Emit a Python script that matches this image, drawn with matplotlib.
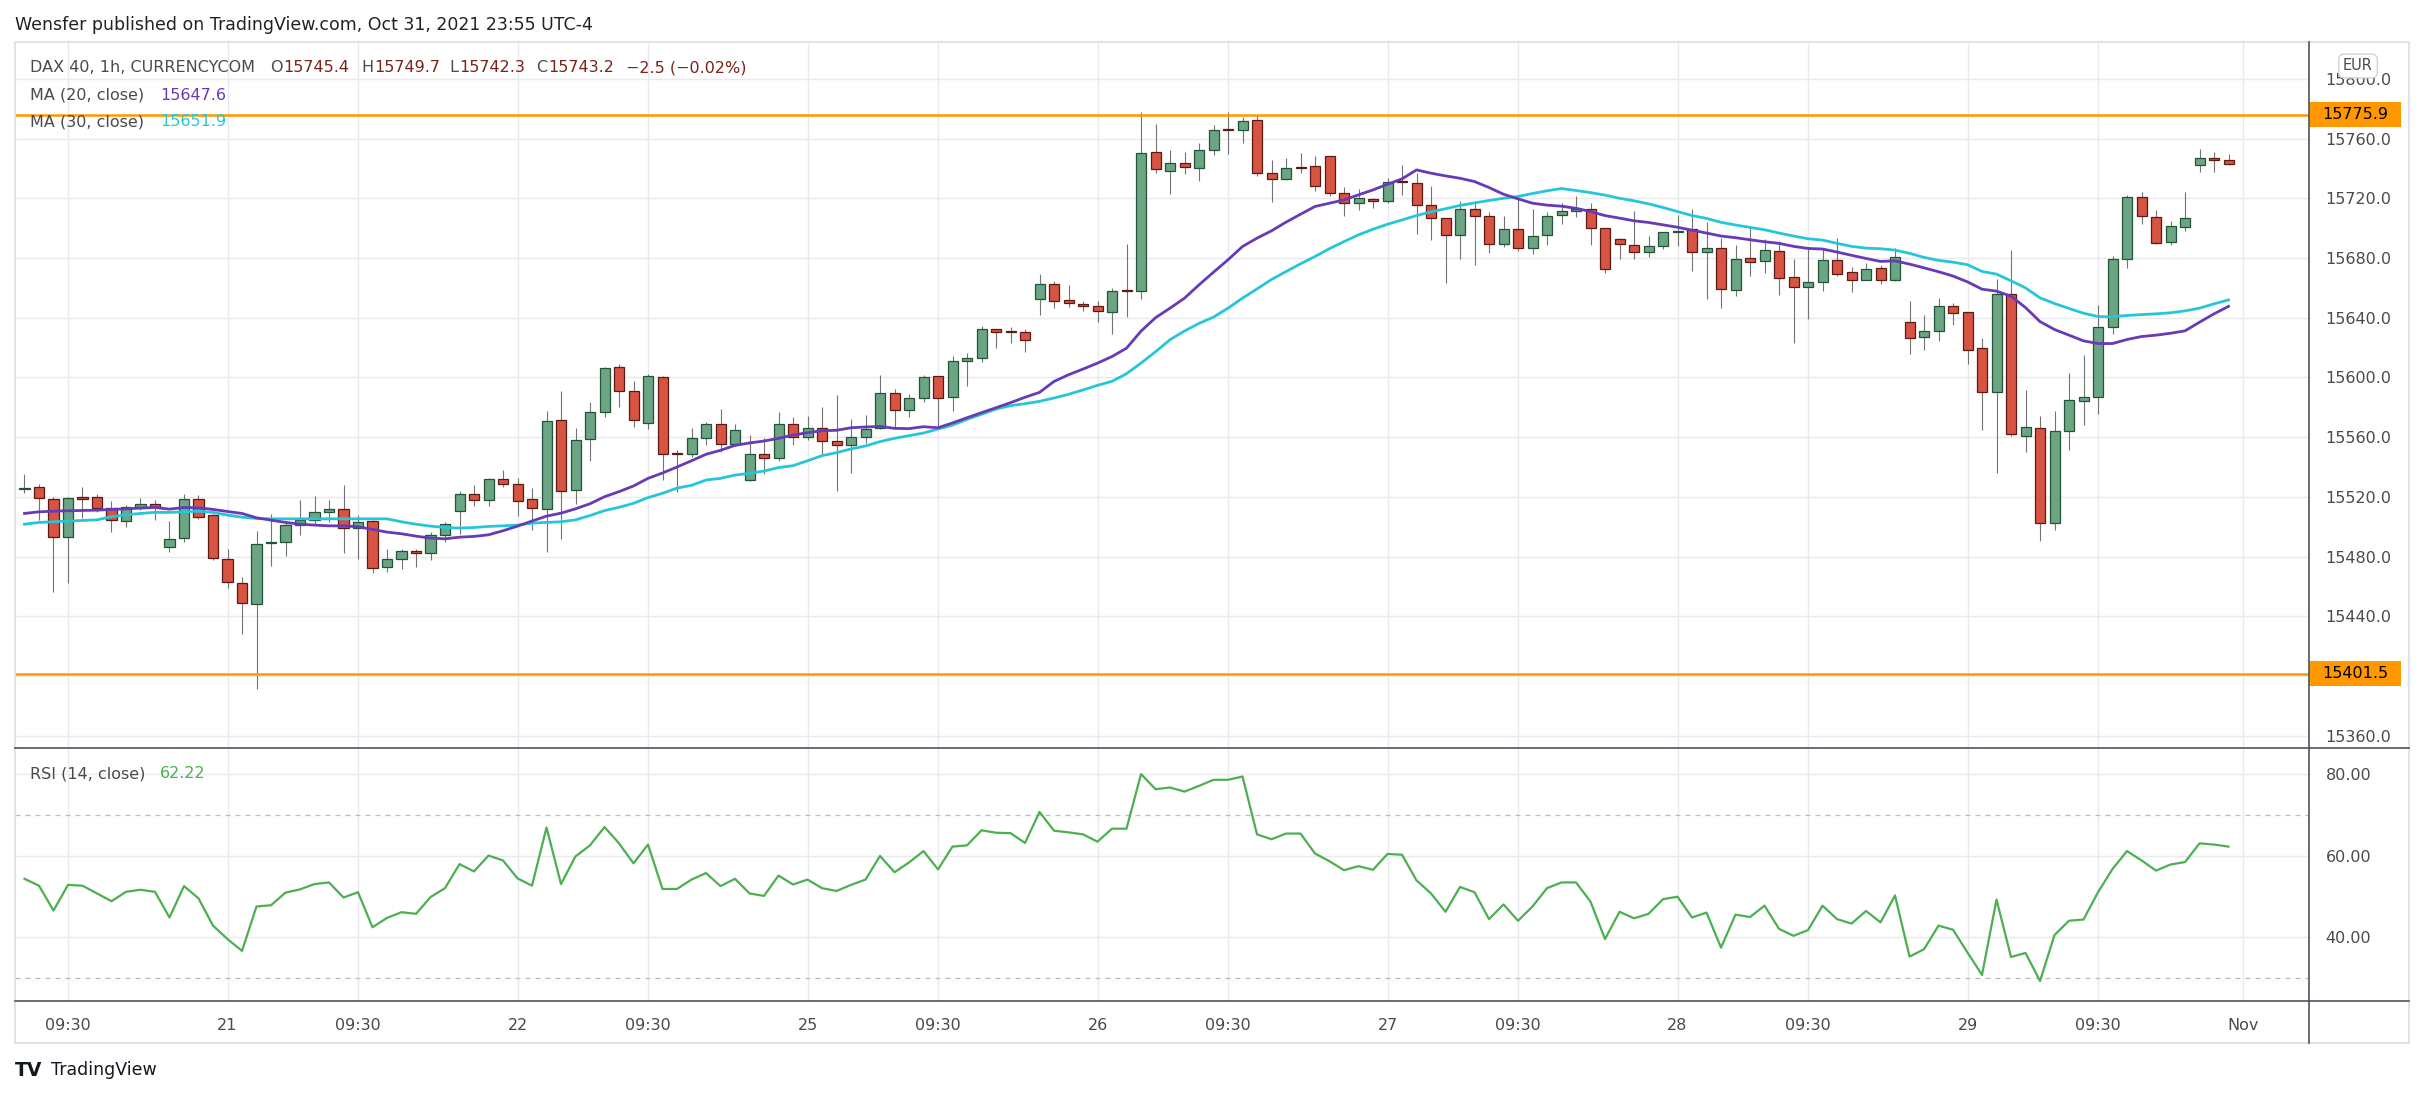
"""DAX 40 1h chart (TradingView style) with MA20 / MA30 and RSI(14) panel."""

import matplotlib
matplotlib.use("Agg")
import matplotlib.pyplot as plt
from matplotlib.patches import Rectangle
from matplotlib.lines import Line2D
from matplotlib.transforms import blended_transform_factory
import numpy as np

plt.rcParams["font.family"] = ["DejaVu Sans"]

# ------------------------------------------------------------------
# Data (one entry per hourly bar)
# ------------------------------------------------------------------
opens = [
    15525.2, 15526.5, 15518.5, 15493.0, 15519.6, 15519.8, 15512.5, 15503.8, 15513.1, 15515.1,
    15486.3, 15492.4, 15518.5, 15507.8, 15478.3, 15462.2, 15448.2, 15489.0, 15489.7, 15501.1,
    15504.4, 15509.8, 15511.8, 15499.1, 15503.8, 15472.9, 15478.3, 15483.7, 15482.3, 15494.4,
    15510.4, 15521.8, 15517.8, 15531.9, 15528.5, 15518.5, 15511.8, 15571.3, 15524.5, 15558.7,
    15577.1, 15607.2, 15591.1, 15569.7, 15600.5, 15549.6, 15548.9, 15559.6, 15569.0, 15555.6,
    15531.3, 15548.9, 15546.0, 15569.0, 15560.3, 15566.3, 15557.6, 15555.0, 15560.3, 15566.3,
    15589.8, 15578.4, 15586.4, 15601.2, 15587.1, 15611.2, 15613.2, 15632.6, 15630.8, 15630.6,
    15652.4, 15662.7, 15651.6, 15649.3, 15648.0, 15643.8, 15658.4, 15658.2, 15751.3, 15738.6,
    15743.3, 15740.6, 15752.0, 15766.1, 15765.4, 15772.7, 15737.2, 15733.2, 15740.8, 15741.3,
    15748.0, 15723.8, 15717.1, 15719.8, 15718.5, 15731.2, 15730.5, 15715.8, 15707.1, 15695.5,
    15713.1, 15707.8, 15689.7, 15699.7, 15687.0, 15695.7, 15709.1, 15711.8, 15712.5, 15700.4,
    15692.4, 15689.0, 15683.7, 15687.7, 15697.1, 15699.1, 15684.0, 15686.9, 15658.5, 15680.2,
    15677.9, 15684.8, 15667.4, 15660.7, 15664.1, 15678.8, 15670.3, 15665.4, 15673.4, 15665.4,
    15637.2, 15627.1, 15631.2, 15648.0, 15643.9, 15619.8, 15590.2, 15656.2, 15560.8, 15566.1,
    15502.2, 15564.1, 15584.2, 15586.9, 15633.9, 15679.5, 15721.1, 15707.7, 15690.9, 15701.0,
    15742.6, 15747.3, 15745.4,
]
highs = [
    15535.4, 15528.5, 15519.8, 15519.8, 15526.7, 15522.0, 15517.4, 15514.7, 15519.4, 15518.0,
    15504.0, 15522.0, 15521.2, 15508.7, 15485.2, 15466.5, 15497.3, 15508.4, 15503.1, 15518.0,
    15520.7, 15518.0, 15528.1, 15507.8, 15504.7, 15485.2, 15485.2, 15484.8, 15496.7, 15503.1,
    15524.0, 15528.1, 15532.8, 15538.1, 15532.5, 15525.8, 15577.6, 15590.9, 15566.0, 15583.6,
    15607.3, 15609.2, 15597.4, 15602.5, 15601.2, 15551.4, 15566.3, 15570.4, 15579.0, 15569.0,
    15561.2, 15559.6, 15577.0, 15573.3, 15573.9, 15580.0, 15588.0, 15572.4, 15574.6, 15601.8,
    15592.0, 15588.7, 15601.8, 15601.2, 15614.1, 15616.1, 15634.6, 15632.6, 15633.5, 15632.6,
    15669.6, 15664.9, 15662.2, 15650.9, 15650.9, 15659.6, 15689.6, 15777.6, 15769.6, 15752.2,
    15751.3, 15756.9, 15768.9, 15777.6, 15774.3, 15775.6, 15745.5, 15746.8, 15750.0, 15748.2,
    15748.6, 15727.4, 15726.5, 15720.5, 15733.9, 15742.6, 15737.2, 15728.5, 15707.1, 15718.5,
    15718.5, 15711.1, 15707.8, 15721.2, 15712.5, 15711.1, 15716.5, 15721.2, 15717.1, 15700.4,
    15693.7, 15711.8, 15694.4, 15697.7, 15709.1, 15712.7, 15704.3, 15693.1, 15688.4, 15700.5,
    15692.9, 15691.6, 15679.0, 15687.5, 15686.0, 15693.1, 15674.3, 15676.4, 15675.2, 15686.4,
    15651.5, 15641.5, 15652.9, 15649.7, 15643.9, 15626.7, 15665.6, 15685.1, 15591.8, 15573.9,
    15577.7, 15603.2, 15614.8, 15648.2, 15681.1, 15722.4, 15724.4, 15711.9, 15704.5, 15724.0,
    15752.8, 15750.8, 15749.7,
]
lows = [
    15522.7, 15504.2, 15456.0, 15462.0, 15506.0, 15509.6, 15496.2, 15499.7, 15510.9, 15504.2,
    15483.0, 15489.5, 15504.9, 15477.4, 15458.7, 15427.9, 15391.0, 15473.4, 15480.1, 15494.2,
    15501.7, 15503.5, 15482.1, 15478.7, 15468.7, 15470.0, 15472.0, 15472.7, 15477.4, 15489.5,
    15494.8, 15514.2, 15514.2, 15526.3, 15506.9, 15497.7, 15482.8, 15491.7, 15515.4, 15544.0,
    15573.6, 15580.0, 15566.8, 15565.4, 15531.3, 15523.3, 15546.7, 15554.7, 15550.3, 15554.0,
    15530.6, 15535.3, 15544.0, 15554.7, 15558.0, 15548.0, 15524.0, 15536.2, 15556.3, 15565.6,
    15565.6, 15573.5, 15583.5, 15566.3, 15577.5, 15594.2, 15610.3, 15619.7, 15623.0, 15617.0,
    15641.6, 15646.2, 15646.9, 15644.2, 15636.9, 15629.1, 15640.2, 15652.6, 15737.0, 15722.9,
    15736.3, 15731.9, 15749.3, 15749.7, 15757.1, 15735.0, 15717.6, 15732.5, 15736.8, 15725.2,
    15721.8, 15708.2, 15712.2, 15713.6, 15716.5, 15722.3, 15696.2, 15692.2, 15663.3, 15679.2,
    15675.4, 15683.5, 15687.5, 15684.8, 15682.8, 15689.0, 15702.9, 15707.6, 15688.8, 15670.0,
    15679.4, 15679.4, 15680.8, 15686.2, 15688.3, 15671.6, 15652.4, 15646.8, 15654.4, 15667.9,
    15669.9, 15655.1, 15623.3, 15639.4, 15657.8, 15667.9, 15657.1, 15665.0, 15662.5, 15664.5,
    15616.0, 15618.2, 15624.2, 15634.8, 15609.3, 15565.0, 15536.3, 15560.5, 15549.8, 15490.5,
    15498.1, 15551.1, 15567.9, 15575.3, 15628.9, 15673.2, 15702.7, 15689.3, 15688.4, 15698.0,
    15737.6, 15737.6, 15742.3,
]
closes = [
    15526.0, 15519.2, 15493.0, 15519.2, 15518.9, 15512.5, 15504.4, 15513.1, 15515.1, 15513.1,
    15491.7, 15518.5, 15506.4, 15479.0, 15462.9, 15448.8, 15488.3, 15489.6, 15501.1, 15504.4,
    15509.8, 15511.8, 15499.1, 15503.1, 15472.3, 15478.3, 15483.7, 15482.1, 15494.4, 15501.7,
    15521.8, 15517.8, 15531.9, 15528.5, 15517.1, 15512.5, 15570.9, 15523.8, 15558.0, 15576.7,
    15606.5, 15591.1, 15571.7, 15601.2, 15548.9, 15548.9, 15559.6, 15569.0, 15555.6, 15565.0,
    15548.9, 15546.0, 15569.0, 15560.3, 15566.3, 15557.6, 15555.0, 15560.3, 15565.7, 15589.8,
    15578.4, 15586.4, 15600.5, 15586.4, 15611.2, 15613.2, 15632.6, 15630.6, 15630.4, 15625.3,
    15662.7, 15651.1, 15649.8, 15647.8, 15644.4, 15658.0, 15658.0, 15750.0, 15739.9, 15743.9,
    15741.2, 15752.0, 15766.0, 15765.9, 15772.0, 15737.2, 15733.2, 15740.6, 15740.4, 15727.9,
    15723.2, 15717.1, 15720.5, 15718.5, 15731.2, 15730.6, 15715.8, 15707.1, 15695.5, 15712.5,
    15708.4, 15689.7, 15699.1, 15687.0, 15695.0, 15708.4, 15711.8, 15712.1, 15700.4, 15672.3,
    15689.7, 15684.3, 15687.7, 15697.1, 15698.4, 15684.3, 15686.9, 15659.1, 15679.5, 15677.2,
    15685.5, 15666.7, 15660.7, 15664.1, 15678.8, 15669.4, 15665.4, 15672.8, 15665.4, 15680.8,
    15626.5, 15631.2, 15648.0, 15643.3, 15618.4, 15590.2, 15656.2, 15562.1, 15566.8, 15502.8,
    15564.1, 15584.9, 15586.9, 15633.9, 15679.5, 15721.1, 15707.9, 15690.2, 15701.6, 15707.0,
    15747.3, 15745.9, 15743.2,
]
ma20 = [
    15508.9, 15510.0, 15510.4, 15510.7, 15510.9, 15511.1, 15511.6, 15512.0, 15512.5, 15512.9,
    15511.8, 15512.9, 15512.7, 15511.6, 15510.2, 15508.9, 15506.0, 15504.4, 15502.9, 15501.7,
    15501.1, 15500.6, 15500.6, 15500.0, 15498.2, 15496.4, 15495.3, 15493.7, 15492.4, 15491.9,
    15493.0, 15493.5, 15494.6, 15497.3, 15500.4, 15503.8, 15507.1, 15509.1, 15512.0, 15515.4,
    15520.1, 15523.5, 15527.3, 15532.4, 15536.0, 15540.0, 15544.2, 15548.5, 15551.2, 15554.5,
    15556.1, 15557.4, 15559.2, 15561.4, 15563.0, 15564.3, 15564.6, 15566.3, 15566.8, 15567.2,
    15565.9, 15565.7, 15567.0, 15566.3, 15569.5, 15573.0, 15576.4, 15579.7, 15583.1, 15586.7,
    15590.0, 15597.3, 15601.8, 15605.6, 15609.6, 15614.0, 15619.6, 15631.0, 15640.0, 15646.4,
    15653.1, 15662.0, 15670.5, 15678.8, 15687.7, 15693.3, 15698.2, 15704.0, 15709.3, 15714.5,
    15716.7, 15718.9, 15722.3, 15725.6, 15729.4, 15733.0, 15739.0, 15736.8, 15735.0, 15733.4,
    15731.2, 15727.2, 15722.7, 15719.6, 15716.7, 15715.4, 15714.7, 15713.3, 15711.1, 15708.4,
    15706.7, 15704.9, 15703.8, 15702.2, 15700.6, 15698.6, 15696.7, 15694.7, 15693.6, 15692.2,
    15690.9, 15689.8, 15687.8, 15686.4, 15686.0, 15684.0, 15681.8, 15679.7, 15677.7, 15678.1,
    15675.9, 15673.4, 15670.8, 15667.9, 15664.0, 15659.1, 15657.8, 15654.4, 15646.8, 15637.4,
    15632.1, 15628.3, 15624.5, 15622.7, 15622.7, 15625.4, 15627.4, 15628.3, 15629.6, 15631.2,
    15637.0, 15642.6, 15647.6,
]
ma30 = [
    15501.7, 15502.9, 15503.3, 15503.8, 15504.2, 15504.6, 15506.7, 15508.0, 15508.9, 15509.6,
    15509.6, 15510.0, 15510.4, 15509.6, 15507.8, 15506.4, 15505.5, 15505.3, 15505.3, 15505.3,
    15505.3, 15505.3, 15505.3, 15505.3, 15505.3, 15505.3, 15503.3, 15501.7, 15500.4, 15499.5,
    15499.1, 15499.5, 15500.2, 15500.6, 15501.1, 15502.4, 15502.9, 15503.3, 15504.6, 15507.5,
    15510.8, 15513.0, 15515.7, 15519.5, 15522.4, 15525.9, 15527.7, 15531.3, 15532.4, 15534.6,
    15535.8, 15537.3, 15539.6, 15540.9, 15544.2, 15547.6, 15549.6, 15552.1, 15554.1, 15557.0,
    15559.2, 15561.0, 15562.8, 15565.4, 15568.1, 15571.9, 15575.3, 15578.8, 15581.1, 15582.4,
    15584.0, 15586.2, 15588.7, 15591.6, 15594.7, 15597.4, 15602.5, 15609.6, 15617.2, 15625.3,
    15631.1, 15636.2, 15640.4, 15646.4, 15653.1, 15659.3, 15665.6, 15670.9, 15676.1, 15681.0,
    15686.3, 15691.0, 15695.5, 15699.3, 15702.6, 15705.5, 15708.4, 15710.9, 15713.0, 15715.2,
    15716.9, 15718.5, 15720.0, 15721.2, 15723.2, 15725.0, 15726.5, 15725.2, 15723.8, 15722.1,
    15720.0, 15718.3, 15716.3, 15713.8, 15711.1, 15708.4, 15706.5, 15703.9, 15702.1, 15700.5,
    15698.9, 15696.7, 15694.7, 15692.9, 15692.0, 15689.8, 15687.8, 15686.6, 15686.2, 15685.3,
    15683.1, 15680.4, 15678.4, 15677.2, 15675.5, 15671.0, 15669.2, 15664.7, 15660.0, 15653.3,
    15649.5, 15646.2, 15643.0, 15640.8, 15640.6, 15641.5, 15642.1, 15642.6, 15643.3, 15644.6,
    15646.4, 15649.3, 15651.9,
]
rsi = [
    54.3, 52.6, 46.5, 52.8, 52.6, 50.7, 48.8, 51.1, 51.6, 51.1,
    44.8, 52.5, 49.5, 42.8, 39.5, 36.6, 47.5, 47.8, 50.9, 51.7,
    53.0, 53.4, 49.7, 51.0, 42.4, 44.7, 46.1, 45.7, 49.8, 52.0,
    57.9, 56.1, 60.0, 58.8, 54.4, 52.6, 66.9, 53.0, 59.8, 62.5,
    67.0, 63.0, 58.1, 62.7, 51.8, 51.8, 54.1, 55.7, 52.5, 54.3,
    50.7, 50.1, 55.1, 52.9, 54.1, 52.0, 51.3, 52.8, 54.1, 59.9,
    55.9, 58.3, 61.1, 56.6, 62.2, 62.5, 66.2, 65.6, 65.5, 63.1,
    70.7, 66.1, 65.7, 65.2, 63.4, 66.6, 66.6, 80.0, 76.3, 76.7,
    75.7, 77.1, 78.6, 78.6, 79.4, 65.2, 64.0, 65.4, 65.4, 60.5,
    58.6, 56.4, 57.4, 56.5, 60.4, 60.2, 53.9, 50.7, 46.2, 52.3,
    51.0, 44.4, 48.0, 44.0, 47.5, 52.0, 53.4, 53.4, 48.7, 39.5,
    46.2, 44.6, 45.7, 49.3, 49.9, 44.8, 46.0, 37.4, 45.5, 44.9,
    47.7, 42.0, 40.3, 41.7, 47.7, 44.4, 43.3, 46.4, 43.6, 50.2,
    35.2, 37.0, 42.8, 41.8, 36.2, 30.7, 49.2, 35.1, 36.1, 29.2,
    40.5, 44.0, 44.3, 51.0, 56.7, 61.1, 58.8, 56.3, 57.8, 58.4,
    63.0, 62.7, 62.2,
]

# time axis: bar index of each label
time_tick_bars = [3, 14, 23, 34, 43, 54, 63, 74, 83, 94, 103, 114, 123, 134, 143, 153]
time_tick_labels = ["09:30", "21", "09:30", "22", "09:30", "25", "09:30", "26",
                    "09:30", "27", "09:30", "28", "09:30", "29", "09:30", "Nov"]
price_ticks = [15360, 15400, 15440, 15480, 15520, 15560, 15600, 15640, 15680, 15720, 15760, 15800]
rsi_ticks = [40, 60, 80]
rsi_bands = [30, 70]
levels = [15775.9, 15401.5]

# ------------------------------------------------------------------
# Style
# ------------------------------------------------------------------
UP, DOWN = "#6ba583", "#d75442"
UP_EDGE, DOWN_EDGE = "#225437", "#5b1a13"
WICK = "#737375"
MA20_C, MA30_C = "#673ab7", "#26c6da"
RSI_C = "#4caf50"
ORANGE = "#ff9800"
GRID = "#e9eaee"
AXIS = "#50535e"
TXT = "#4a4a4a"
VAL_RED = "#7a2318"
FS = 11.5

W, H = 2425, 1099
fig = plt.figure(figsize=(W / 100, H / 100), dpi=100)
fig.patch.set_facecolor("white")


def fx(px):
    return px / W


def fy(py):
    return 1 - py / H


X0, X1 = 15, 2309
ax = fig.add_axes([fx(X0), fy(748), fx(X1) - fx(X0), fy(43) - fy(748)])
ax2 = fig.add_axes([fx(X0), fy(1001), fx(X1) - fx(X0), fy(748) - fy(1001)], sharex=ax)

o = np.array(opens)
h = np.array(highs)
l = np.array(lows)
c = np.array(closes)
idx = np.arange(len(c))
up = c >= o

# ------------------------------------------------------------------
# Main panel: candles + MAs + levels
# ------------------------------------------------------------------
ax.vlines(idx, l, h, color=WICK, lw=0.8, zorder=2)
body_lo = np.minimum(o, c)
body_h = np.maximum(np.abs(c - o), 0.8)
ax.bar(idx[up], body_h[up], bottom=body_lo[up], width=0.69,
       color=UP, edgecolor=UP_EDGE, linewidth=0.9, zorder=3)
ax.bar(idx[~up], body_h[~up], bottom=body_lo[~up], width=0.69,
       color=DOWN, edgecolor=DOWN_EDGE, linewidth=0.9, zorder=3)

ax.plot(idx, ma30, color=MA30_C, lw=2.0, zorder=4)
ax.plot(idx, ma20, color=MA20_C, lw=2.0, zorder=4)
for lv in levels:
    ax.axhline(lv, color=ORANGE, lw=1.8, zorder=5)

ax.set_xlim(-0.655, 157.55)
ax.set_ylim(15351.8, 15824.0)

# ------------------------------------------------------------------
# RSI panel
# ------------------------------------------------------------------
ax2.plot(idx, rsi, color=RSI_C, lw=1.6, zorder=4)
for b in rsi_bands:
    ax2.axhline(b, color="#b8bac2", lw=0.9, ls=(0, (4, 4)), zorder=1)
ax2.set_ylim(24.3, 86.4)

# grids / ticks
for a, yt in ((ax, price_ticks), (ax2, rsi_ticks)):
    for t in yt:
        a.axhline(t, color=GRID, lw=1.0, zorder=0)
    for t in time_tick_bars:
        a.axvline(t, color=GRID, lw=1.0, zorder=0)
    a.set_facecolor("white")
    for s in a.spines.values():
        s.set_visible(False)
    a.tick_params(axis="both", length=0)

ax.yaxis.tick_right()
ax.set_yticks(price_ticks)
ax.set_yticklabels(["" if t == 15400 else f"{t:.1f}" for t in price_ticks])
ax.tick_params(axis="y", pad=12, labelsize=FS, labelcolor=TXT)
ax.tick_params(axis="x", labelbottom=False)

ax2.yaxis.tick_right()
ax2.set_yticks(rsi_ticks)
ax2.set_yticklabels([f"{t:.2f}" for t in rsi_ticks])
ax2.tick_params(axis="y", pad=12, labelsize=FS, labelcolor=TXT)
ax2.set_xticks(time_tick_bars)
ax2.set_xticklabels(time_tick_labels)
ax2.tick_params(axis="x", pad=12, labelsize=FS, labelcolor=TXT)

# level labels on the price scale
blend = blended_transform_factory(ax.transAxes, ax.transData)
box_w = 92 / (X1 - X0)
for lv in levels:
    ax.add_patch(Rectangle((1.0, lv - 8.4), box_w, 16.8, transform=blend,
                           facecolor=ORANGE, edgecolor="none", clip_on=False, zorder=6))
    ax.text(1.0 + box_w / 2, lv, f"{lv:.1f}", transform=blend, ha="center", va="center",
            fontsize=FS, color="black", clip_on=False, zorder=7)

# currency badge
fig.text(fx(2358), fy(66), "EUR", ha="center", va="center", fontsize=10.5, color=TXT,
         bbox=dict(boxstyle="round,pad=0.3,rounding_size=0.4", fc="white", ec="#d1d4dc", lw=1),
         zorder=10)

# ------------------------------------------------------------------
# Frame lines
# ------------------------------------------------------------------
frame = Rectangle((fx(15), fy(1043)), fx(2409) - fx(15), fy(42) - fy(1043),
                  transform=fig.transFigure, fill=False, ec="#e0e3eb", lw=1.5)
fig.add_artist(frame)
fig.add_artist(Line2D([fx(X1), fx(X1)], [fy(42), fy(1043)], color=AXIS, lw=1.2))
fig.add_artist(Line2D([fx(15), fx(2409)], [fy(748), fy(748)], color=AXIS, lw=1.2))
fig.add_artist(Line2D([fx(15), fx(2409)], [fy(1001), fy(1001)], color=AXIS, lw=1.2))

# ------------------------------------------------------------------
# Header / legend texts
# ------------------------------------------------------------------
fig.text(fx(15), fy(25), "Wensfer published on TradingView.com, Oct 31, 2021 23:55 UTC-4",
         ha="left", va="center", fontsize=12.5, color="#222222")

legend_y = fy(68)
fig.text(fx(30), legend_y, "DAX 40, 1h, CURRENCYCOM", ha="left", va="center",
         fontsize=FS, color=TXT)
for letter, val, x, gap in (("O", "15745.4", 270, 13), ("H", "15749.7", 361, 13),
                            ("L", "15742.3", 449, 10), ("C", "15743.2", 536, 12)):
    fig.text(fx(x), legend_y, letter, ha="left", va="center", fontsize=FS, color=TXT)
    fig.text(fx(x + gap), legend_y, val, ha="left", va="center", fontsize=FS, color=VAL_RED)
fig.text(fx(626), legend_y, "\u22122.5 (\u22120.02%)", ha="left", va="center",
         fontsize=FS, color=VAL_RED)

fig.text(fx(30), fy(95), "MA (20, close)", ha="left", va="center", fontsize=FS, color=TXT)
fig.text(fx(160), fy(95), f"{ma20[-1]:.1f}", ha="left", va="center", fontsize=FS, color=MA20_C)
fig.text(fx(30), fy(122), "MA (30, close)", ha="left", va="center", fontsize=FS, color=TXT)
fig.text(fx(160), fy(122), f"{ma30[-1]:.1f}", ha="left", va="center", fontsize=FS, color=MA30_C)

fig.text(fx(30), fy(774), "RSI (14, close)", ha="left", va="center", fontsize=FS, color=TXT)
fig.text(fx(160), fy(774), "62.22", ha="left", va="center", fontsize=FS, color=RSI_C)

# footer logo
fig.text(fx(15), fy(1070), "TV", ha="left", va="center", fontsize=13.5, fontweight="heavy",
         color="#131722")
fig.text(fx(51), fy(1070), "TradingView", ha="left", va="center", fontsize=12.5,
         color="#131722")

fig.savefig("out.png", dpi=100, facecolor="white")
